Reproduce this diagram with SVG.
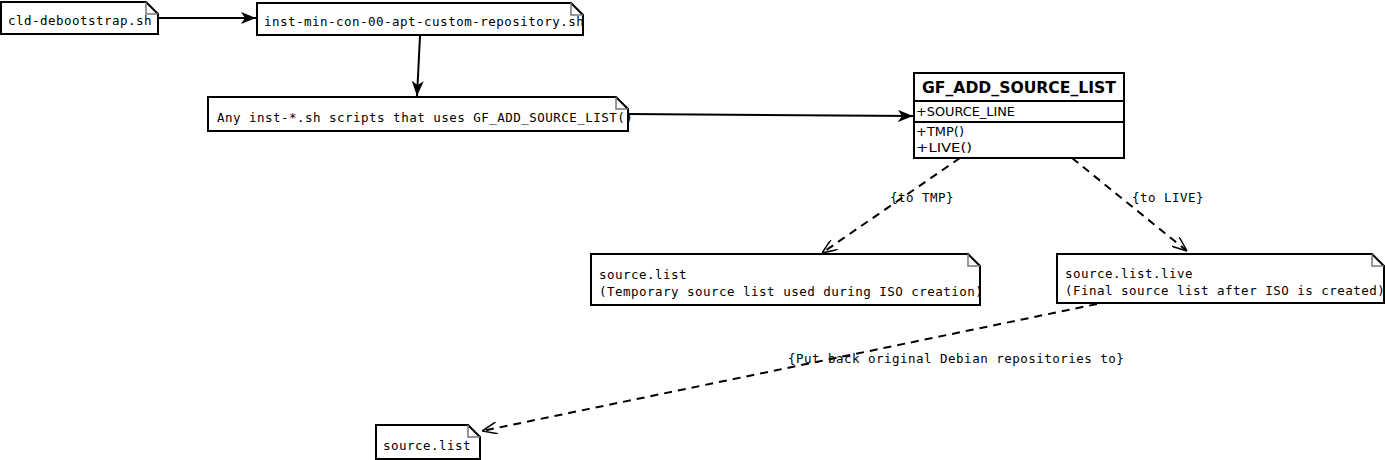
<svg xmlns="http://www.w3.org/2000/svg" width="1385" height="460" viewBox="0 0 1385 460">
<style>
.note{fill:#fff;stroke:#000;stroke-width:2}
.fold{fill:none;stroke:#777;stroke-width:1.5}
.t{font-family:"DejaVu Sans Mono","Liberation Mono",monospace;font-size:12.5px;letter-spacing:0.48px;fill:#000}
.c{font-family:"DejaVu Sans","Liberation Sans",sans-serif;font-size:12px;fill:#000}
.ct{font-family:"DejaVu Sans","Liberation Sans",sans-serif;font-size:15px;font-weight:bold;fill:#000}
.solid{fill:none;stroke:#000;stroke-width:2}
.dash{fill:none;stroke:#000;stroke-width:2;stroke-dasharray:8,6}
</style>
<defs>
<marker id="fa" viewBox="0 0 15 12" refX="15" refY="6" markerWidth="15" markerHeight="12" markerUnits="userSpaceOnUse" orient="auto">
<path d="M0,0 L15,6 L0,12 L4,6 Z" fill="#000"/>
</marker>
<marker id="oa" viewBox="0 0 15 12" refX="15" refY="6" markerWidth="15" markerHeight="12" markerUnits="userSpaceOnUse" orient="auto">
<path d="M0,0 L15,6 L0,12" fill="none" stroke="#000" stroke-width="1.5"/>
</marker>
</defs>
<g id="connectors">
<line class="solid" x1="158" y1="18" x2="256" y2="18" marker-end="url(#fa)"/>
<line class="solid" x1="420" y1="36" x2="417" y2="96" marker-end="url(#fa)"/>
<line class="solid" x1="628" y1="114" x2="913" y2="116" marker-end="url(#fa)"/>
<line class="dash" x1="960" y1="158" x2="822" y2="253" marker-end="url(#oa)"/>
<line class="dash" x1="1072" y1="158" x2="1187" y2="251" marker-end="url(#oa)"/>
<line class="dash" x1="1097" y1="304" x2="482" y2="431" marker-end="url(#oa)"/>
<text class="t" x="890" y="202">{to TMP}</text>
<text class="t" x="1132" y="202">{to LIVE}</text>
<text class="t" x="788" y="363">{Put back original Debian repositories to}</text>
</g>
<g id="n1">
<path class="note" d="M1,2 H146 L158,14 V34 H1 Z"/>
<path class="fold" d="M146,2 V14 H158"/>
<text class="t" x="8" y="25">cld-debootstrap.sh</text>
</g>
<g id="n2">
<path class="note" d="M257,3 H571 L583,15 V35 H257 Z"/>
<path class="fold" d="M571,3 V15 H583"/>
<text class="t" x="264" y="26">inst-min-con-00-apt-custom-repository.sh</text>
</g>
<g id="n3">
<path class="note" d="M208,97 H616 L628,109 V131 H208 Z"/>
<path class="fold" d="M616,97 V109 H628"/>
<text class="t" x="217" y="122">Any inst-*.sh scripts that uses GF_ADD_SOURCE_LIST()</text>
</g>
<g id="cls">
<rect x="914" y="73" width="210" height="85" fill="#fff" stroke="#000" stroke-width="2"/>
<line x1="914" y1="101" x2="1124" y2="101" stroke="#000" stroke-width="2"/>
<line x1="914" y1="122" x2="1124" y2="122" stroke="#000" stroke-width="2"/>
<text class="ct" x="1019" y="93" text-anchor="middle" textLength="194" lengthAdjust="spacingAndGlyphs">GF_ADD_SOURCE_LIST</text>
<text class="c" x="916" y="116" textLength="99" lengthAdjust="spacingAndGlyphs">+SOURCE_LINE</text>
<text class="c" x="916" y="136" textLength="48" lengthAdjust="spacingAndGlyphs">+TMP()</text>
<text class="c" x="916" y="152" textLength="56" lengthAdjust="spacingAndGlyphs">+LIVE()</text>
</g>
<g id="n4">
<path class="note" d="M591,254 H968 L980,266 V305 H591 Z"/>
<path class="fold" d="M968,254 V266 H980"/>
<text class="t" x="599" y="279">source.list</text>
<text class="t" x="599" y="296">(Temporary source list used during ISO creation)</text>
</g>
<g id="n5">
<path class="note" d="M1057,254 H1372 L1384,266 V303 H1057 Z"/>
<path class="fold" d="M1372,254 V266 H1384"/>
<text class="t" x="1065" y="278">source.list.live</text>
<text class="t" x="1065" y="295">(Final source list after ISO is created)</text>
</g>
<g id="n6">
<path class="note" d="M376,425 H468 L480,437 V459 H376 Z"/>
<path class="fold" d="M468,425 V437 H480"/>
<text class="t" x="383" y="450">source.list</text>
</g>
</svg>
